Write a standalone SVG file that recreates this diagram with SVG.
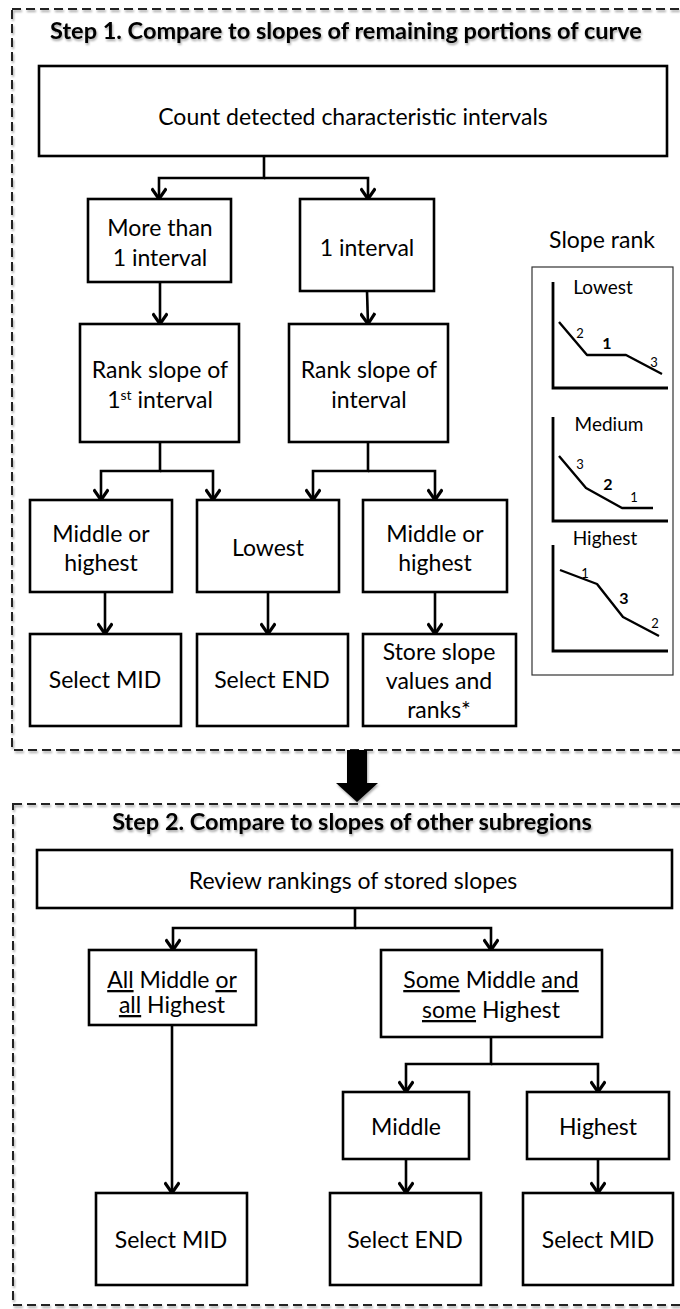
<svg xmlns="http://www.w3.org/2000/svg" width="680" height="1309" viewBox="0 0 680 1309">
<defs>
<marker id="arr" markerUnits="userSpaceOnUse" markerWidth="16" markerHeight="16" refX="9" refY="6" orient="auto" viewBox="0 0 12 12">
<path d="M1,0.5 L9,6 L1,11.5" fill="none" stroke="#000" stroke-width="2.4"/>
</marker>
<filter id="sh" x="-5%" y="-20%" width="110%" height="160%">
<feDropShadow dx="1" dy="2" stdDeviation="1.2" flood-color="#000" flood-opacity="0.35"/>
</filter>
</defs>
<style>
.frame{fill:none;stroke:#222;stroke-width:2;stroke-dasharray:9 5}
.box{fill:#fff;stroke:#000;stroke-width:2.6}
.t{font-family:Lato,"Open Sans","Liberation Sans",sans-serif;font-size:23px;fill:#000;text-anchor:middle}
.title{font-family:Lato,"Open Sans","Liberation Sans",sans-serif;font-size:23.5px;font-weight:bold;fill:#000;text-anchor:middle}
.lbl{font-family:Lato,"Open Sans","Liberation Sans",sans-serif;font-size:19px;fill:#000;text-anchor:middle}
.big{font-size:23px}
.num{font-family:Lato,"Open Sans","Liberation Sans",sans-serif;font-size:13px;fill:#000;text-anchor:middle}
.numb{font-family:Lato,"Open Sans","Liberation Sans",sans-serif;font-size:16px;font-weight:bold;fill:#000;text-anchor:middle}
.ax{fill:none;stroke:#000;stroke-width:2.8}
.cv{fill:none;stroke:#000;stroke-width:2.4;stroke-linejoin:round}
.con{fill:none;stroke:#000;stroke-width:2.6}
.u{text-decoration:underline}
.sup{font-size:14px}
</style>

<g id="step1-frame">
<rect class="frame" x="12" y="9" width="720" height="741" filter="url(#sh)"/>
<text class="title" x="346" y="39" filter="url(#sh)">Step 1. Compare to slopes of remaining portions of curve</text>
</g>

<g id="step2-frame">
<rect class="frame" x="13" y="804" width="720" height="501" filter="url(#sh)"/>
<text class="title" x="352" y="830" filter="url(#sh)">Step 2. Compare to slopes of other subregions</text>
</g>

<g id="connectors">
<path class="con" d="M264,156 V178 H159 V199" marker-end="url(#arr)"/>
<path class="con" d="M264,178 H368 V199" marker-end="url(#arr)"/>
<path class="con" d="M160,282 V324" marker-end="url(#arr)"/>
<path class="con" d="M367,291 L368,324" marker-end="url(#arr)"/>
<path class="con" d="M160,442 V471 H101 V500" marker-end="url(#arr)"/>
<path class="con" d="M160,471 H213 V500" marker-end="url(#arr)"/>
<path class="con" d="M368,442 V471 H313 V500" marker-end="url(#arr)"/>
<path class="con" d="M368,471 H435 V500" marker-end="url(#arr)"/>
<path class="con" d="M105,592 V634" marker-end="url(#arr)"/>
<path class="con" d="M268,592 V634" marker-end="url(#arr)"/>
<path class="con" d="M435,592 V634" marker-end="url(#arr)"/>
<polygon points="347,750 367,750 367,783 378,783 357,802 336,783 347,783" fill="#000" filter="url(#sh)"/>
<path class="con" d="M355,908 V928 H173 V950" marker-end="url(#arr)"/>
<path class="con" d="M355,928 H491 V950" marker-end="url(#arr)"/>
<path class="con" d="M172,1025 V1193" marker-end="url(#arr)"/>
<path class="con" d="M491,1037 V1064 H406 V1092" marker-end="url(#arr)"/>
<path class="con" d="M491,1064 H598 V1092" marker-end="url(#arr)"/>
<path class="con" d="M406,1159 V1193" marker-end="url(#arr)"/>
<path class="con" d="M598,1159 V1193" marker-end="url(#arr)"/>
</g>

<g id="count"><rect class="box" x="39" y="66" width="628" height="90"/><text class="t" x="353" y="125">Count detected characteristic intervals</text></g>
<g id="more"><rect class="box" x="88" y="199" width="143" height="83"/><text class="t" x="160" y="236">More than</text><text class="t" x="160" y="266">1 interval</text></g>
<g id="one"><rect class="box" x="300" y="199" width="134" height="92"/><text class="t" x="367" y="256">1 interval</text></g>
<g id="rank1"><rect class="box" x="80" y="324" width="159" height="118"/><text class="t" x="160" y="378">Rank slope of</text><text class="t" x="160" y="408">1<tspan class="sup" baseline-shift="super">st</tspan> interval</text></g>
<g id="rank2"><rect class="box" x="289" y="324" width="159" height="118"/><text class="t" x="369" y="378">Rank slope of</text><text class="t" x="369" y="408">interval</text></g>
<g id="mid1"><rect class="box" x="30" y="500" width="142" height="92"/><text class="t" x="101" y="542">Middle or</text><text class="t" x="101" y="571">highest</text></g>
<g id="lowest"><rect class="box" x="197" y="500" width="142" height="92"/><text class="t" x="268" y="556">Lowest</text></g>
<g id="mid2"><rect class="box" x="363" y="500" width="144" height="92"/><text class="t" x="435" y="542">Middle or</text><text class="t" x="435" y="571">highest</text></g>
<g id="selmid1"><rect class="box" x="30" y="634" width="151" height="92"/><text class="t" x="105" y="688">Select MID</text></g>
<g id="selend1"><rect class="box" x="197" y="634" width="151" height="92"/><text class="t" x="272" y="688">Select END</text></g>
<g id="store"><rect class="box" x="363" y="634" width="153" height="92"/><text class="t" x="439" y="660">Store slope</text><text class="t" x="439" y="689">values and</text><text class="t" x="439" y="718">ranks*</text></g>

<g id="slope-rank">
<text class="lbl big" x="602" y="248">Slope rank</text>
<rect x="532" y="267" width="141" height="408" fill="#fff" stroke="#333" stroke-width="1.2"/>
<text class="lbl" x="603" y="294">Lowest</text>
<path class="ax" d="M553,282 V388 H668"/>
<path class="cv" d="M559,322 L587,355 L626,355 L662,374"/>
<text class="num" x="580" y="338">2</text>
<text class="numb" x="607" y="349">1</text>
<text class="num" x="654" y="367">3</text>
<text class="lbl" x="609" y="431">Medium</text>
<path class="ax" d="M553,417 V521 H668"/>
<path class="cv" d="M559,456 L586,488 L622,508 L653,508"/>
<text class="num" x="580" y="469">3</text>
<text class="numb" x="608" y="490">2</text>
<text class="num" x="634" y="502">1</text>
<text class="lbl" x="605" y="545">Highest</text>
<path class="ax" d="M553,545 V651 H668"/>
<path class="cv" d="M560,570 L597,584 L623,617 L659,636"/>
<text class="num" x="585" y="578">1</text>
<text class="numb" x="624" y="604">3</text>
<text class="num" x="655" y="628">2</text>
</g>

<g id="review"><rect class="box" x="37" y="850" width="635" height="58"/><text class="t" x="353" y="889">Review rankings of stored slopes</text></g>
<g id="all"><rect class="box" x="89" y="950" width="167" height="75"/><text class="t" x="172" y="988"><tspan class="u">All</tspan> Middle <tspan class="u">or</tspan></text><text class="t" x="172" y="1013"><tspan class="u">all</tspan> Highest</text></g>
<g id="some"><rect class="box" x="381" y="950" width="221" height="87"/><text class="t" x="491" y="988"><tspan class="u">Some</tspan> Middle <tspan class="u">and</tspan></text><text class="t" x="491" y="1018"><tspan class="u">some</tspan> Highest</text></g>
<g id="middle"><rect class="box" x="343" y="1092" width="126" height="67"/><text class="t" x="406" y="1135">Middle</text></g>
<g id="highest"><rect class="box" x="527" y="1092" width="142" height="67"/><text class="t" x="598" y="1135">Highest</text></g>
<g id="selmid2"><rect class="box" x="96" y="1193" width="151" height="92"/><text class="t" x="171" y="1248">Select MID</text></g>
<g id="selend2"><rect class="box" x="330" y="1193" width="151" height="92"/><text class="t" x="405" y="1248">Select END</text></g>
<g id="selmid3"><rect class="box" x="523" y="1193" width="150" height="92"/><text class="t" x="598" y="1248">Select MID</text></g>
</svg>
